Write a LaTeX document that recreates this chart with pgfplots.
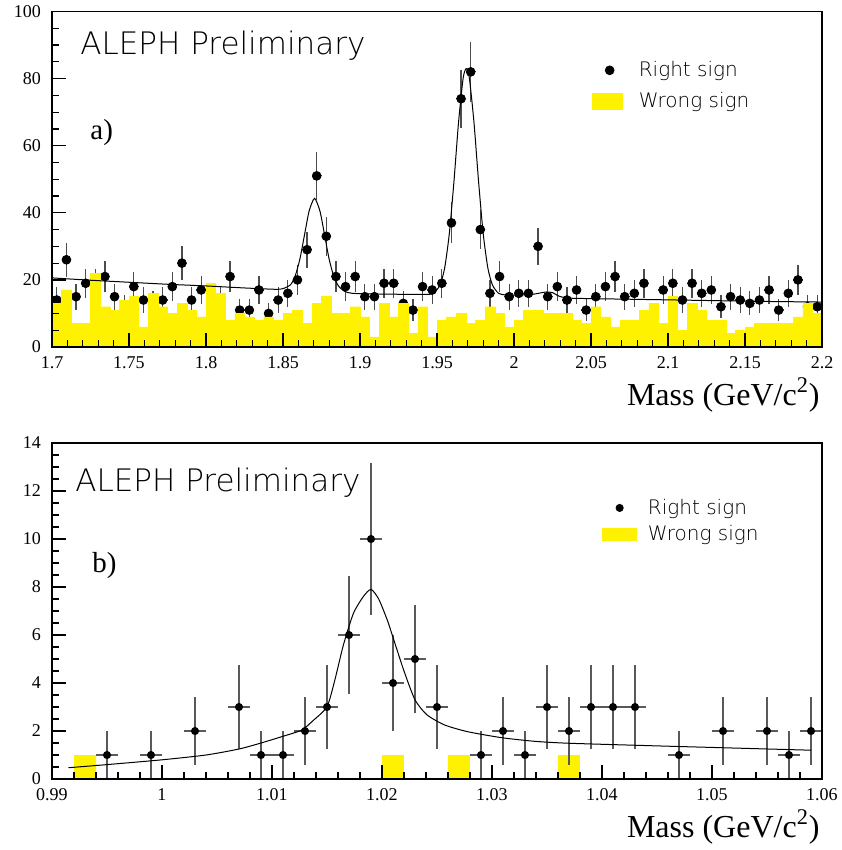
\documentclass[border=0pt]{standalone}
\usepackage{pgfplots}
\pgfplotsset{compat=1.18}
\usepackage{pgfplotstable}
\usepackage{fontspec}
\setmainfont{Liberation Serif}
\IfFontExistsTF{DejaVu Sans ExtraLight}{%
  \newfontfamily\thinfont{DejaVu Sans ExtraLight}%
  \def\alephsize{\fontsize{15.5}{18}\selectfont}%
  \def\legsize{\fontsize{10}{12}\selectfont}}{%
  \newfontfamily\thinfont{Liberation Sans}%
  \def\alephsize{\fontsize{16.5}{19}\selectfont}%
  \def\legsize{\fontsize{11.5}{13}\selectfont}}

\pgfplotstableread{
c rs e ws
1.703125 14 3.742 13
1.709375 26 5.099 17
1.715625 15 3.873 7
1.721875 19 4.359 7
1.728125 19 4.359 22
1.734375 21 4.583 12
1.740625 15 3.873 11
1.746875 12 3.464 14
1.753125 18 4.243 15
1.759375 14 3.742 6
1.765625 13 3.606 16
1.771875 14 3.742 12
1.778125 18 4.243 10
1.784375 25 5.000 13
1.790625 14 3.742 11
1.796875 17 4.123 9
1.803125 14 3.742 19
1.809375 14 3.742 16
1.815625 21 4.583 8
1.821875 11 3.317 10
1.828125 11 3.317 9
1.834375 17 4.123 8
1.840625 10 3.162 9
1.846875 14 3.742 8
1.853125 16 4.000 10
1.859375 20 4.472 11
1.865625 29 5.385 7
1.871875 51 7.141 13
1.878125 33 5.745 15
1.884375 21 4.583 10
1.890625 18 4.243 10
1.896875 21 4.583 12
1.903125 15 3.873 9
1.909375 15 3.873 3
1.915625 19 4.359 13
1.921875 19 4.359 9
1.928125 13 3.606 13
1.934375 11 3.317 4
1.940625 18 4.243 12
1.946875 17 4.123 3
1.953125 19 4.359 8
1.959375 37 6.083 9
1.965625 74 8.602 10
1.971875 82 9.055 7
1.978125 35 5.916 8
1.984375 16 4.000 12
1.990625 21 4.583 10
1.996875 15 3.873 6
2.003125 16 4.000 8
2.009375 16 4.000 11
2.015625 30 5.477 11
2.021875 15 3.873 10
2.028125 18 4.243 10
2.034375 14 3.742 10
2.040625 17 4.123 8
2.046875 11 3.317 7
2.053125 15 3.873 12
2.059375 18 4.243 9
2.065625 21 4.583 6
2.071875 15 3.873 8
2.078125 16 4.000 8
2.084375 19 4.359 11
2.090625 9 3.000 13
2.096875 17 4.123 7
2.103125 19 4.359 15
2.109375 14 3.742 5
2.115625 19 4.359 13
2.121875 16 4.000 11
2.128125 17 4.123 8
2.134375 12 3.464 8
2.140625 15 3.873 4
2.146875 14 3.742 5
2.153125 13 3.606 6
2.159375 14 3.742 7
2.165625 17 4.123 7
2.171875 11 3.317 7
2.178125 16 4.000 7
2.184375 20 4.472 9
2.190625 12 3.464 13
2.196875 12 3.464 10
}\topdata

\pgfplotstableread{
c n e
0.995 1 1
0.999 1 1
1.003 2 1.414
1.007 3 1.732
1.009 1 1
1.011 1 1
1.013 2 1.414
1.015 3 1.732
1.017 6 2.449
1.019 10 3.162
1.021 4 2
1.023 5 2.236
1.025 3 1.732
1.029 1 1
1.031 2 1.414
1.033 1 1
1.035 3 1.732
1.037 2 1.414
1.039 3 1.732
1.041 3 1.732
1.043 3 1.732
1.047 1 1
1.051 2 1.414
1.055 2 1.414
1.057 1 1
1.059 2 1.414
}\botdata

\pgfplotsset{
  alephaxis/.style={
    scale only axis, anchor=south west, width=385pt,
    tick align=inside, xtick pos=bottom, ytick pos=left,
    major tick length=7.2pt, minor tick length=3.6pt,
    axis on top,
    axis line style={line width=0.6pt},
    every tick/.style={black, line width=0.6pt},
    ticklabel style={font=\fontsize{9}{10}\selectfont},
    yticklabel style={xshift=-2pt},
    xticklabel style={yshift=-1.2pt},
    /pgf/number format/assume math mode=true,
    legend cell align=left,
  },
}

\begin{document}
\begin{tikzpicture}
\path[use as bounding box] (0,0) rectangle (420.5pt,-425pt);

% ---------------- panel a ----------------
\begin{axis}[alephaxis, clip marker paths=true,
  at={(26pt,-173.5pt)}, height=167.75pt,
  xmin=1.7, xmax=2.2, ymin=0, ymax=100,
  xtick={1.7,1.75,1.8,1.85,1.9,1.95,2,2.05,2.1,2.15,2.2},
  xticklabels={1.7,1.75,1.8,1.85,1.9,1.95,2,2.05,2.1,2.15,2.2},
  minor x tick num=4,
  ytick={0,20,40,60,80,100}, minor y tick num=3,
  legend style={draw=none, fill=none, at={(0.7013,0.853)}, anchor=north west,
    font=\thinfont\legsize, inner sep=0pt, row sep=6.5pt, column sep=8pt,
    nodes={inner sep=0pt}},
]
\addplot[only marks, mark=*, mark size=2.2pt, black,
  error bars/.cd, x dir=both, x fixed=0.003125, y dir=both, y explicit,
  error bar style={line width=0.6pt, black!70}, error mark=none]
  table[x=c, y=rs, y error=e]{\topdata};
\addlegendimage{empty legend}
\addplot[ybar, bar width=0.00625, fill=yellow, draw=yellow, line width=0.2pt,
  legend image code/.code={\fill[yellow] (0pt,-4pt) rectangle (15pt,4pt);}]
  table[x=c, y=ws]{\topdata};
\addplot[black, line width=0.5pt, smooth, tension=0.4, forget plot] coordinates {
(1.700,20.6) (1.725,19.9) (1.750,19.3) (1.775,18.7) (1.800,18.2) (1.825,17.6)
(1.845,17.2) (1.850,17.4) (1.855,18.6) (1.858,21.3) (1.861,26.3) (1.864,33.5)
(1.867,40.6) (1.8705,44.3) (1.874,40.5) (1.877,33.4) (1.880,26.1) (1.883,21.0)
(1.886,18.2) (1.890,16.6) (1.895,16.0) (1.910,15.8) (1.930,15.7) (1.945,15.7)
(1.948,16.1) (1.952,18.5) (1.955,23.6) (1.958,33.8) (1.961,49.3) (1.964,67.0)
(1.967,80.2) (1.969,83.0) (1.971,80.2) (1.974,67.0) (1.977,49.3) (1.980,33.8)
(1.983,23.6) (1.986,18.5) (1.990,16.0) (1.995,15.5) (2.005,15.5) (2.012,15.7)
(2.017,16.1) (2.021,16.4) (2.025,16.2) (2.029,15.2) (2.033,14.7) (2.040,14.5)
(2.080,14.2) (2.120,13.9) (2.160,13.6) (2.200,13.4)};
\legend{Right sign,,Wrong sign}
\end{axis}

% ---------------- panel b ----------------
\begin{axis}[alephaxis,
  at={(26pt,-389.5pt)}, height=168pt,
  xmin=0.99, xmax=1.06, ymin=0, ymax=14,
  xtick={0.99,1,1.01,1.02,1.03,1.04,1.05,1.06},
  xticklabels={0.99,1,1.01,1.02,1.03,1.04,1.05,1.06},
  minor x tick num=4,
  ytick={0,2,4,6,8,10,12,14}, minor y tick num=3,
  legend style={draw=none, fill=none, at={(0.714,0.835)}, anchor=north west,
    font=\thinfont\legsize, inner sep=0pt, row sep=4pt, column sep=5.5pt,
    nodes={inner sep=0pt}},
]
\addplot[ybar, bar width=0.002, fill=yellow, draw=none, forget plot]
  coordinates {(0.993,1) (1.021,1) (1.027,1) (1.037,1)};
\addplot[only marks, mark=*, mark size=1.8pt, black,
  error bars/.cd, x dir=both, x fixed=0.001, y dir=both, y explicit,
  error bar style={line width=0.6pt, black!65}, error mark=none]
  table[x=c, y=n, y error=e]{\botdata};
\addlegendentry{Right sign}
\addlegendimage{legend image code/.code={\fill[yellow] (0pt,-3pt) rectangle (17pt,3pt);}}
\addlegendentry{Wrong sign}
\addplot[black, line width=0.5pt, smooth, tension=0.4, forget plot] coordinates {
(0.9915,0.47) (0.995,0.60) (1.000,0.80) (1.004,1.00) (1.007,1.25) (1.009,1.50)
(1.011,1.78) (1.0127,2.04) (1.0138,2.46) (1.0150,3.01) (1.0157,4.1) (1.0165,5.6)
(1.0174,6.9) (1.0183,7.6) (1.0190,7.9) (1.0197,7.5) (1.0205,6.6) (1.0210,5.9)
(1.0220,4.5) (1.0230,3.3) (1.0241,2.67) (1.0257,2.25) (1.0278,1.97) (1.0309,1.72)
(1.0339,1.57) (1.0370,1.49) (1.0450,1.38) (1.0520,1.29) (1.0590,1.20)};
\end{axis}

% ---------------- texts ----------------
\node[anchor=base west, inner sep=0pt, font=\thinfont\alephsize] at (40pt,-27.5pt) {ALEPH Preliminary};
\node[anchor=base west, inner sep=0pt, font=\thinfont\alephsize] at (37.5pt,-245.8pt) {ALEPH Preliminary};
\node[anchor=base west, inner sep=0pt, font=\fontsize{14.5}{16}\selectfont] at (45pt,-70pt) {a)};
\node[anchor=base west, inner sep=0pt, font=\fontsize{14.5}{16}\selectfont] at (46pt,-286pt) {b)};
\node[anchor=base east, inner sep=0pt, font=\fontsize{16}{18}\selectfont] at (410pt,-202.5pt) {Mass (GeV/c\textsuperscript{2})};
\node[anchor=base east, inner sep=0pt, font=\fontsize{16}{18}\selectfont] at (410pt,-418.5pt) {Mass (GeV/c\textsuperscript{2})};
\end{tikzpicture}
\end{document}
